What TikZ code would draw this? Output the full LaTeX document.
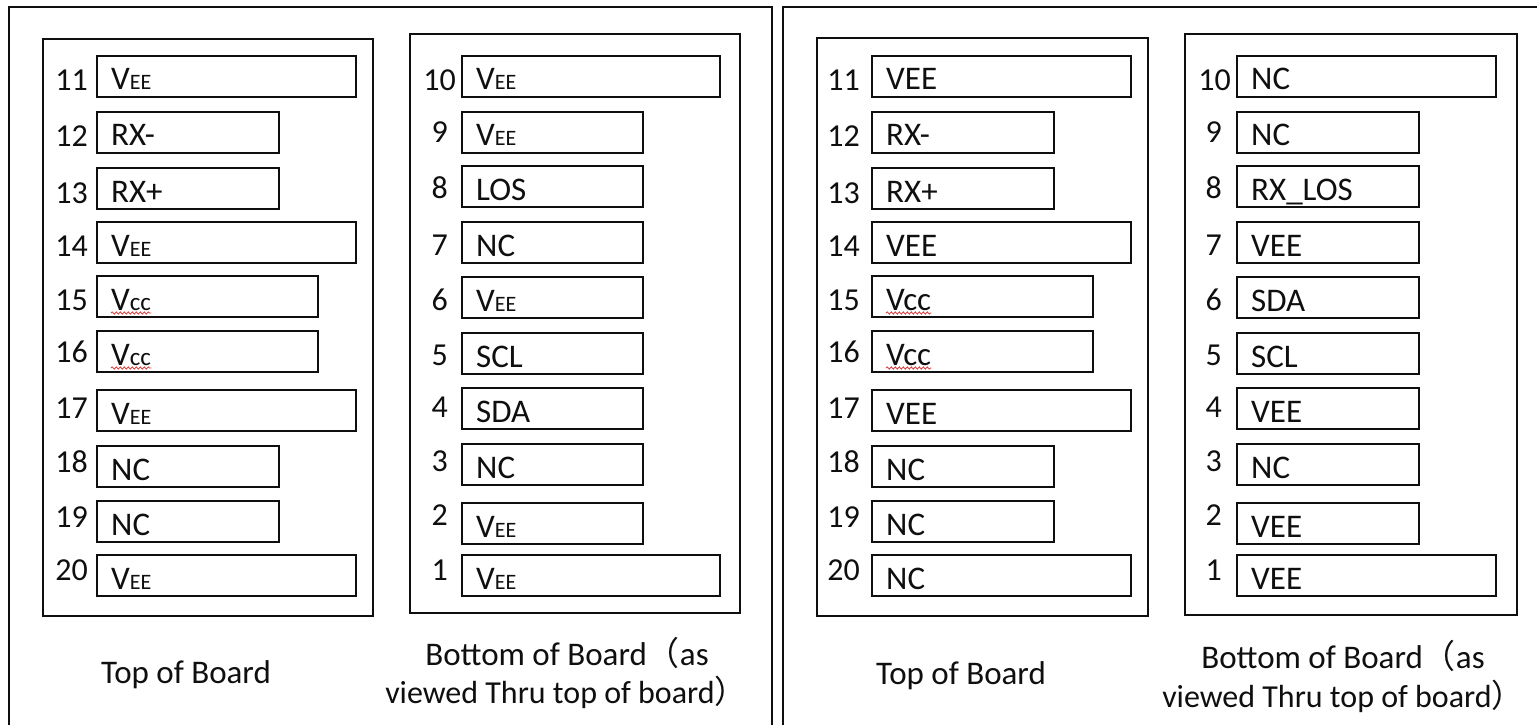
\documentclass[tikz,border=0pt]{standalone}
\usepackage{fontspec}
\setmainfont{Carlito}
\newfontfamily\cjkfont{Noto Sans CJK SC}
\usetikzlibrary{fit,decorations.pathmorphing}
\definecolor{ink}{RGB}{15,15,15}
\definecolor{squigred}{RGB}{215,70,70}
\newcommand{\pinrow}[8]{%
  \node[pinbox, fit={(#6,#4) (#7,#4+41)}] (#1b) {};
  \node[pintext] (#1t) at (#6+14,#4+34) {#8};
  \node[pinnum] (#1n) at (#3,#4+#5) {#2};
}
\newcommand{\smE}{{\fontsize{22bp}{26bp}\selectfont EE}}
\newcommand{\smC}{{\fontsize{25bp}{28bp}\selectfont cc}}
\begin{document}
\begin{tikzpicture}[x=1bp,y=-1bp,
  frame/.style={draw=ink, line width=2.7bp},
  colbox/.style={draw=ink, line width=2.7bp, inner sep=0pt},
  pinbox/.style={draw=ink, line width=2.7bp, inner sep=0pt},
  pintext/.style={anchor=base west, inner sep=0pt, text=ink, font=\fontsize{33bp}{38bp}\selectfont},
  pinnum/.style={anchor=base east, inner sep=0pt, text=ink, font=\fontsize{32bp}{38bp}\selectfont},
  caption/.style={anchor=base, inner sep=0pt, text=ink, font=\fontsize{33bp}{39bp}\selectfont},
  caption2/.style={anchor=base, inner sep=0pt, text=ink, font=\fontsize{32bp}{38bp}\selectfont},
  squig/.style={draw=squigred, line width=0.9bp, decorate, decoration={snake, amplitude=1.1bp, segment length=4bp}}]
\useasboundingbox (0,0) rectangle (1537,725);
\clip (0,0) rectangle (1537,725);
\fill[white] (0,0) rectangle (1537,725);
% outer frames
\draw[frame] (9,740) -- (9,7) -- (772,7) -- (772,740);
\draw[frame] (783,740) -- (783,7) -- (1560,7);
% column boxes
\node[colbox, fit={(43,39) (373,616)}] (LT) {};
\node[colbox, fit={(410,34) (740,613)}] (LB) {};
\node[colbox, fit={(817,38) (1148,616)}] (RT) {};
\node[colbox, fit={(1185,34) (1517,615)}] (RB) {};
% left panel, top of board
\pinrow{a11}{11}{88}{56}{35}{97}{356}{V\smE}
\pinrow{a12}{12}{88}{112}{35}{97}{279}{RX-}
\pinrow{a13}{13}{88}{168}{35}{97}{279}{RX+}
\pinrow{a14}{14}{88}{222}{34}{97}{356}{V\smE}
\pinrow{a15}{15}{88}{276}{34}{97}{318}{V\smC}
\pinrow{a16}{16}{88}{331}{31}{97}{318}{V\smC}
\pinrow{a17}{17}{88}{390}{28}{97}{356}{V\smE}
\pinrow{a18}{18}{88}{446}{26}{97}{279}{NC}
\pinrow{a19}{19}{88}{501}{26}{97}{279}{NC}
\pinrow{a20}{20}{88}{555}{25}{97}{356}{V\smE}
% left panel, bottom of board
\pinrow{b10}{10}{456}{56}{35}{462}{720}{V\smE}
\pinrow{b9}{9}{448}{112}{31}{462}{643}{V\smE}
\pinrow{b8}{8}{448}{166}{32}{462}{643}{LOS}
\pinrow{b7}{7}{448}{222}{33}{462}{643}{NC}
\pinrow{b6}{6}{448}{277}{33}{462}{643}{V\smE}
\pinrow{b5}{5}{448}{333}{32}{462}{643}{SCL}
\pinrow{b4}{4}{448}{388}{29}{462}{643}{SDA}
\pinrow{b3}{3}{448}{444}{27}{462}{643}{NC}
\pinrow{b2}{2}{448}{503}{22}{462}{643}{V\smE}
\pinrow{b1}{1}{448}{555}{25}{462}{720}{V\smE}
% right panel, top of board
\pinrow{c11}{11}{860}{56}{35}{872}{1131}{VEE}
\pinrow{c12}{12}{860}{112}{35}{872}{1054}{RX-}
\pinrow{c13}{13}{860}{168}{35}{872}{1054}{RX+}
\pinrow{c14}{14}{860}{222}{34}{872}{1131}{VEE}
\pinrow{c15}{15}{860}{276}{34}{872}{1093}{Vcc}
\pinrow{c16}{16}{860}{331}{31}{872}{1093}{Vcc}
\pinrow{c17}{17}{860}{390}{28}{872}{1131}{VEE}
\pinrow{c18}{18}{860}{446}{26}{872}{1054}{NC}
\pinrow{c19}{19}{860}{501}{26}{872}{1054}{NC}
\pinrow{c20}{20}{860}{555}{25}{872}{1131}{NC}
% right panel, bottom of board
\pinrow{d10}{10}{1231}{56}{35}{1237}{1496}{NC}
\pinrow{d9}{9}{1222}{112}{31}{1237}{1419}{NC}
\pinrow{d8}{8}{1222}{166}{32}{1237}{1419}{RX\_LOS}
\pinrow{d7}{7}{1222}{222}{33}{1237}{1419}{VEE}
\pinrow{d6}{6}{1222}{277}{33}{1237}{1419}{SDA}
\pinrow{d5}{5}{1222}{333}{32}{1237}{1419}{SCL}
\pinrow{d4}{4}{1222}{388}{29}{1237}{1419}{VEE}
\pinrow{d3}{3}{1222}{444}{27}{1237}{1419}{NC}
\pinrow{d2}{2}{1222}{503}{22}{1237}{1419}{VEE}
\pinrow{d1}{1}{1222}{555}{25}{1237}{1496}{VEE}
% spell-check squiggles
\foreach \n in {a15,a16,c15,c16}
  \draw[squig] ([yshift=-3bp]\n t.base west) -- ([yshift=-3bp]\n t.base east);
% captions
\node[caption] (capLT) at (186,683) {Top of Board};
\node[caption] (capLB1) at (567,665) {Bottom of Board{\cjkfont （}as};
\node[caption2] (capLB2) at (566,703) {viewed Thru top of board{\cjkfont ）}};
\node[caption] (capRT) at (961,684) {Top of Board};
\node[caption] (capRB1) at (1343,668) {Bottom of Board{\cjkfont （}as};
\node[caption2] (capRB2) at (1343,707) {viewed Thru top of board{\cjkfont ）}};
\end{tikzpicture}
\end{document}
